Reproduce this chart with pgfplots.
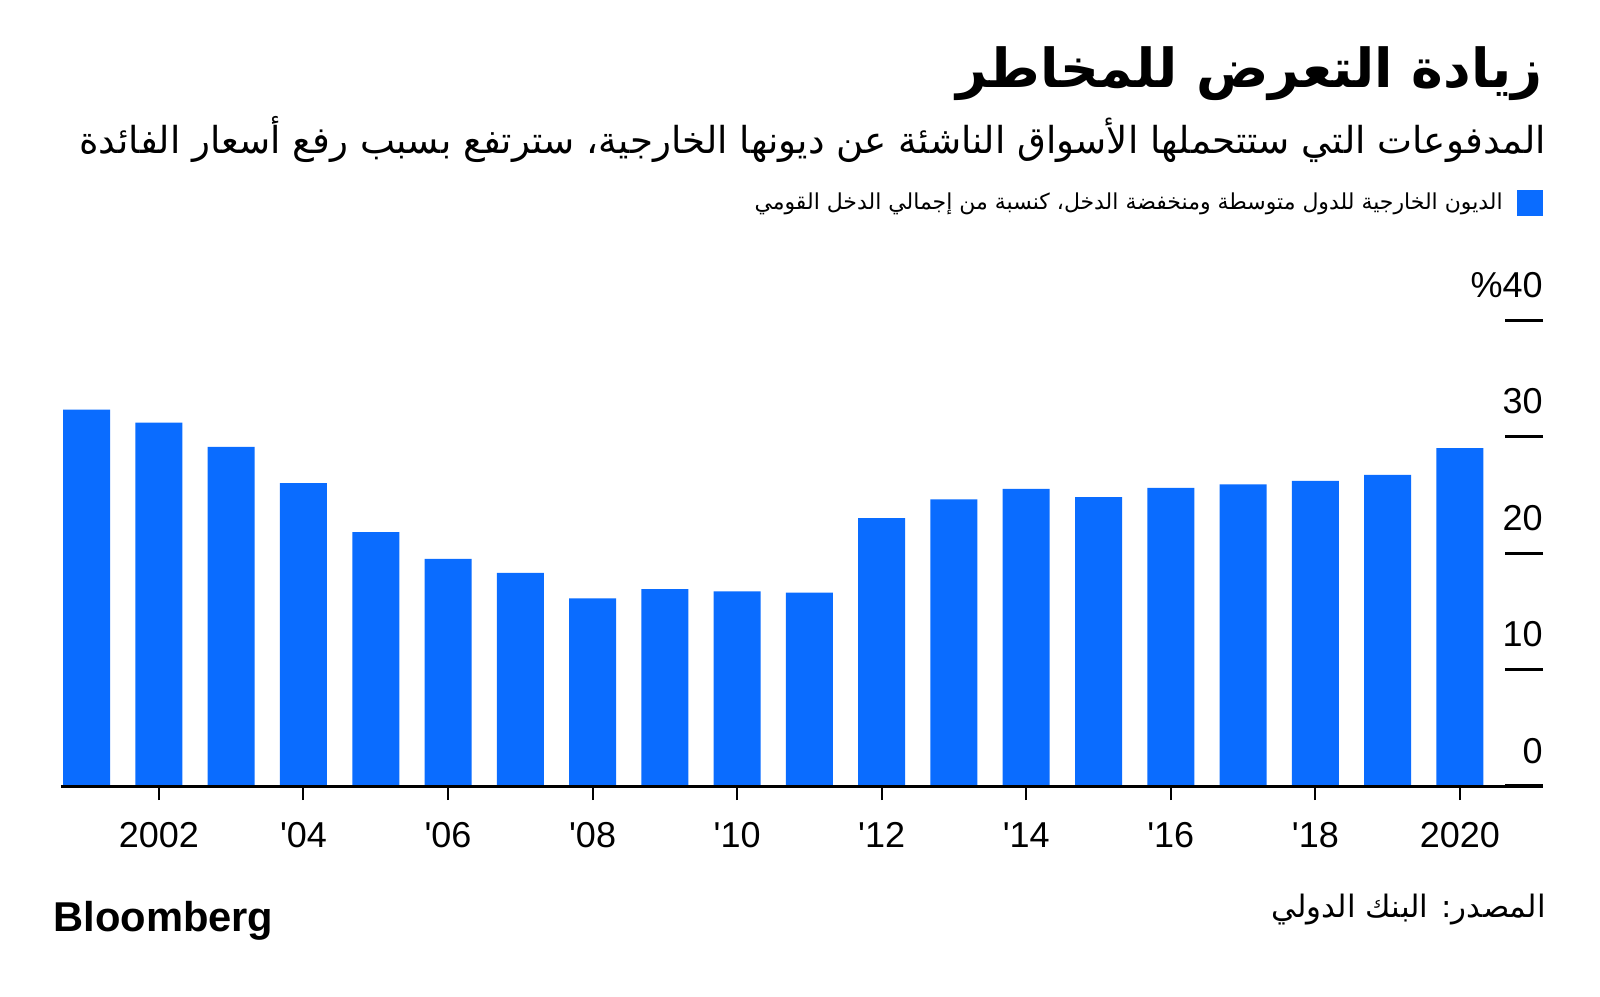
\documentclass[border=0pt]{standalone}
\usepackage{pgfplots}
\pgfplotsset{compat=1.18}
\usepackage{fontspec}
\setmainfont{Liberation Sans}
\newfontfamily\arabicfont[Script=Arabic]{DejaVu Sans}
\TeXXeTstate=1
\definecolor{barblue}{HTML}{0A6CFF}

\begin{document}
\begin{tikzpicture}
\fill[white] (0,0) rectangle (800pt,498pt);

% bars and right-hand value ticks
\begin{axis}[
    at={(30.5pt,105pt)}, anchor=south west,
    scale only axis, width=741pt, height=233pt,
    xmin=2000.645, xmax=2021.15, ymin=0, ymax=40,
    ybar, bar width=23.5pt,
    hide x axis,
    axis y line=right,
    y axis line style={draw=none},
    ytick={0,10,20,30,40},
    yticklabels={0,10,20,30,\%40},
    tick align=inside,
    major tick length=19pt,
    ytick style={line width=1.5pt, black},
    yticklabel style={anchor=south east, inner sep=0pt, yshift=11pt,
        font=\fontsize{18}{18}\selectfont},
    legend plot pos=right,
    legend style={at={(1,1.251)}, anchor=east, draw=none, fill=none,
        inner sep=0pt},
    legend image code/.code={\fill[barblue] (0pt,-6.5pt) rectangle (13pt,6.5pt);},
]
\addplot[fill=barblue, draw=none] coordinates {
    (2001,32.3) (2002,31.2) (2003,29.1) (2004,26.0) (2005,21.8)
    (2006,19.5) (2007,18.3) (2008,16.1) (2009,16.9) (2010,16.7)
    (2011,16.6) (2012,23.0) (2013,24.6) (2014,25.5) (2015,24.8)
    (2016,25.6) (2017,25.9) (2018,26.2) (2019,26.7) (2020,29.0)
};
\addlegendentry{\resizebox{374pt}{!}{\arabicfont\beginR الديون الخارجية للدول متوسطة ومنخفضة الدخل، كنسبة من إجمالي الدخل القومي\endR}\kern5pt\null}
\end{axis}

% baseline and year ticks
\begin{axis}[
    at={(30.5pt,105pt)}, anchor=south west,
    scale only axis, width=741pt, height=233pt,
    xmin=2000.645, xmax=2021.15, ymin=0, ymax=40,
    axis x line=bottom, hide y axis,
    x axis line style={line width=1.5pt, -},
    xtick={2002,2004,...,2020},
    xticklabels={2002,\textquotesingle04,\textquotesingle06,\textquotesingle08,\textquotesingle10,\textquotesingle12,\textquotesingle14,\textquotesingle16,\textquotesingle18,2020},
    tick align=outside, major tick length=7pt,
    xtick style={line width=1pt, black},
    xticklabel style={anchor=north, inner sep=0pt, yshift=-11pt,
        font=\fontsize{18}{18}\selectfont},
]
\end{axis}

\node[anchor=east, inner sep=0pt] at (771.5pt,461pt)
    {\resizebox{293pt}{!}{\arabicfont\bfseries\beginR زيادة التعرض للمخاطر\endR}};
\node[anchor=east, inner sep=0pt] at (773pt,428.5pt)
    {\resizebox{733pt}{!}{\arabicfont\beginR المدفوعات التي ستتحملها الأسواق الناشئة عن ديونها الخارجية، سترتفع بسبب رفع أسعار الفائدة\endR}};
\node[anchor=east, inner sep=0pt] at (773pt,43pt)
    {\resizebox{137pt}{!}{\arabicfont\beginR المصدر: البنك الدولي\endR}};
\node[anchor=west, inner sep=0pt] at (26.5pt,37.5pt)
    {\resizebox{110pt}{!}{\bfseries Bloomberg}};
\end{tikzpicture}
\end{document}
